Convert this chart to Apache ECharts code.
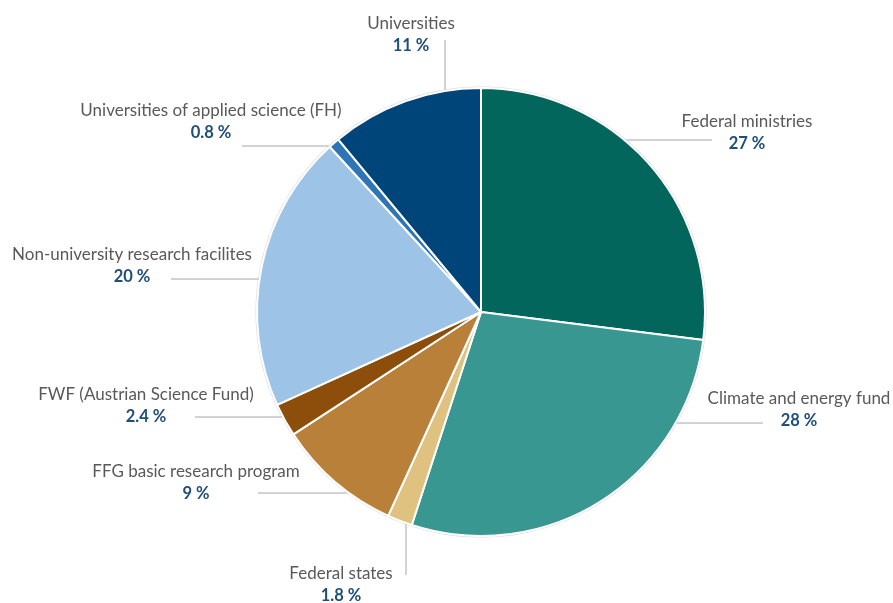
<!DOCTYPE html>
<html><head><meta charset="utf-8">
<script src="https://cdn.jsdelivr.net/npm/echarts@6/dist/echarts.min.js"></script>
<style>html,body{margin:0;padding:0;background:#fff}#c{width:893px;height:603px}</style>
</head><body><div id="c"></div>
<script>
const categories = ["Federal ministries","Climate and energy fund","Federal states","FFG basic research program","FWF (Austrian Science Fund)","Non-university research facilites","Universities of applied science (FH)","Universities"];
const values = [27, 28, 1.8, 9, 2.4, 20, 0.8, 11];
const valueLabels = ["27 %","28 %","1.8 %","9 %","2.4 %","20 %","0.8 %","11 %"];
const colors = ["#02665D","#389891","#DFC27F","#B88038","#8C4E0A","#9DC3E6","#2E75B6","#00457A"];

// label layout (positions only)
const CX = 481, CY = 312, R = 224;
const labelPos = [[747,132.5],[799,409.5],[341,585],[196,482.5],[146,405.5],[132,265.5],[211,121.5],[411,34.5]];
// line: ['h', y, endX] or ['v', x, endY]
const lines = [['h',140,712],['h',423,763],['v',406,575],['h',493,258],['h',417,195],['h',279,171],['h',146,242],['v',445,40]];

const chart = echarts.init(document.getElementById('c'));
chart.setOption({
  animation: false,
  series: [{
    type: 'pie', silent: true, center: [CX, CY], radius: [0, R + 1.5],
    label: {show: false}, labelLine: {show: false},
    itemStyle: {color: '#D9D9D9'}, data: [{value: 1}], z: 1
  }, {
    type: 'pie',
    center: [CX, CY], radius: [0, R],
    startAngle: 90, clockwise: true,
    z: 2,
    itemStyle: {borderColor: '#fff', borderWidth: 2},
    label: {
      show: true, position: 'outside', overflow: 'none', edgeDistance: 0, bleedMargin: 0,
      formatter: p => '{n|' + p.name + '}\n{p|' + valueLabels[p.dataIndex] + '}',
      rich: {
        n: {fontFamily: 'Lato', fontSize: 17, color: '#595959', lineHeight: 22, align: 'center'},
        p: {fontFamily: 'Lato', fontSize: 16.5, fontWeight: 'bold', color: '#1F4E79', lineHeight: 22, align: 'center'}
      }
    },
    labelLine: {show: true, lineStyle: {color: '#A6A6A6', width: 1}},
    labelLayout: function (params) {
      const i = params.dataIndex;
      const L = lines[i];
      let pts;
      if (L[0] === 'h') {
        const dy = L[1] - CY;
        const dx = Math.sqrt(R * R - dy * dy);
        const ex = L[2] > CX ? CX + dx : CX - dx;
        pts = [[ex, L[1]], [L[2], L[1]], [L[2], L[1]]];
      } else {
        const dx = L[1] - CX;
        const dy = Math.sqrt(R * R - dx * dx);
        const ey = L[2] > CY ? CY + dy : CY - dy;
        pts = [[L[1], ey], [L[1], L[2]], [L[1], L[2]]];
      }
      return {x: labelPos[i][0], y: labelPos[i][1], align: 'center', verticalAlign: 'middle', labelLinePoints: pts};
    },
    data: categories.map((c, i) => ({name: c, value: values[i], itemStyle: {color: colors[i]}}))
  }]
});
</script></body></html>
